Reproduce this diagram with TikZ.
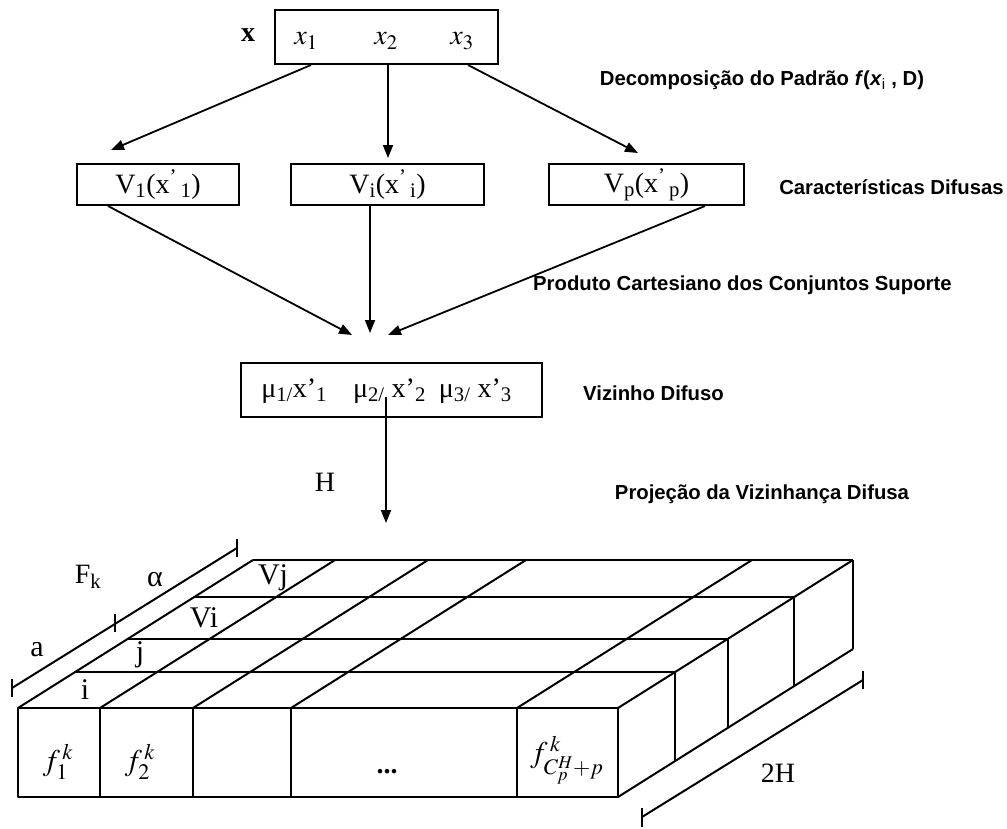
\documentclass[tikz,border=0pt]{standalone}
\usepackage{mathptmx}
\usepackage[no-math]{fontspec}
\setmainfont{Liberation Serif}
\setsansfont{Liberation Sans}
\usetikzlibrary{arrows.meta, positioning, calc}

\newcommand{\serifsize}{\fontsize{28}{32}\selectfont}
\newcommand{\bigsize}{\fontsize{30}{34}\selectfont}
\newcommand{\labelsize}{\fontsize{20.3}{24}\selectfont}

\begin{document}
\begin{tikzpicture}[
			x=1pt, y=-1pt,
			box/.style={draw, line width=2pt, inner sep=0pt, font=\serifsize},
			caption/.style={font=\labelsize\sffamily\bfseries, anchor=west, inner sep=0pt},
			sym/.style={font=\serifsize, inner sep=0pt},
			arrow/.style={-{Triangle[length=13pt,width=10pt]}, line width=1.8pt},
			edge/.style={line width=2pt, line join=round},
			tick/.style={line width=2pt}
			]
			\useasboundingbox (0,0) rectangle (1007,828);
			
			% Pattern x
			\node[box, minimum width=223pt, minimum height=54pt] (pattern) at (386.5,37) {};
			\node[sym, font=\serifsize\bfseries] (xvec) at (248,35) {x};
			\node[sym] (xone) at (306,41) {$x_1$};
			\node[sym] (xtwo) at (386,41) {$x_2$};
			\node[sym] (xthree) at (462,41) {$x_3$};
			\node[caption, anchor=center] (decomp) at (762,80) {Decomposição do Padrão \textit{f}(\textit{x}\textsubscript{\mdseries i} , D)};
			
			% Fuzzy features
			\node[box, minimum width=162pt, minimum height=41pt] (vone) at (158,184.5) {V\textsubscript{1}(x\textsuperscript{’}\textsubscript{\,1})};
			\node[box, minimum width=193pt, minimum height=41pt] (vi) at (387.5,184.5) {V\textsubscript{i}(x\textsuperscript{’}\textsubscript{\,i})};
			\node[box, minimum width=195pt, minimum height=41pt] (vp) at (646.5,184.5) {V\textsubscript{p}(x\textsuperscript{’}\textsubscript{\,p})};
			\node[caption, anchor=east] (feat) at (1004,187) {Características Difusas};
			
			% Arrow tips
			\coordinate (tipone) at (111,150);
			\coordinate (tiptwo) at (388,158);
			\coordinate (tipthree) at (638,153);
			\coordinate (meetone) at (352,335);
			\coordinate (meettwo) at (370,333);
			\coordinate (meetthree) at (388,335);
			
			\draw[arrow] ([xshift=-75.5pt]pattern.south) -- (tipone);
			\draw[arrow] ([xshift=1.5pt]pattern.south) -- (tiptwo);
			\draw[arrow] ([xshift=81.5pt]pattern.south) -- (tipthree);
			
			\draw[arrow] ([xshift=-50pt]vone.south) -- (meetone);
			\draw[arrow] ([xshift=-17.5pt]vi.south) -- (meettwo);
			\draw[arrow] ([xshift=58.5pt]vp.south) -- (meetthree);
			\node[caption] (cart) at (533,285) {Produto Cartesiano dos Conjuntos Suporte};
			
			% Fuzzy neighbour
			\node[box, minimum width=301pt, minimum height=54pt] (fuzzy) at (391.5,390) {};
			\node[sym] (fuzzytext) at (386.5,391) {μ\textsubscript{1/}x'\textsubscript{1}\hspace{26pt}μ\textsubscript{2/} x’\textsubscript{2}\hspace{13pt}μ\textsubscript{3/} x’\textsubscript{3}};
			\node[caption] (neigh) at (583,393) {Vizinho Difuso};
			
			\coordinate (gridtop) at (386,523);
			\draw[arrow] ([xshift=-5.5pt,yshift=-7pt]fuzzy.center) -- (gridtop);
			\node[sym] (hlabel) at (325,482) {H};
			\node[caption, anchor=center] (proj) at (762,494) {Projeção da Vizinhança Difusa};
			
			% Projection grid - front face
			\draw[edge] (18,708) rectangle (618,797);
			\foreach \x in {100,193,291,517}
				\draw[edge] (\x,708) -- (\x,797);
			% top face
			\foreach \x in {18,100,193,291,517,618}
				\draw[edge] (\x,708) -- ++(235,-148);
			\foreach \t in {0.243,0.466,0.75,1}
				\draw[edge] ($(18,708)+\t*(235,-148)$) -- ++(600,0);
			% right face
			\foreach \t in {0.243,0.466,0.75,1}
				\draw[edge] ($(618,708)+\t*(235,-148)$) -- ++(0,89);
			\draw[edge] (618,797) -- ++(235,-148);
			
			% Dimension lines
			\draw[tick] (12,688) -- (237,548);
			\draw[tick] (12,679) -- (12,697);
			\draw[tick] (115,614) -- (115,632);
			\draw[tick] (237,539) -- (237,557);
			\draw[tick] (642,817) -- (863,680);
			\draw[tick] (642,808) -- (642,827);
			\draw[tick] (863,671) -- (863,689);
			
			% Grid labels
			\node[sym, font=\bigsize] (alab) at (37,650) {a};
			\node[sym] (fk) at (88,577) {F\textsubscript{k}};
			\node[sym, font=\bigsize] (alpha) at (155,580) {α};
			\node[sym, font=\bigsize] (vj) at (273,578) {Vj};
			\node[sym, font=\bigsize] (vilab) at (204,618) {Vi};
			\node[sym, font=\bigsize] (jlab) at (140,655) {j};
			\node[sym, font=\bigsize] (ilab) at (85,690) {i};
			\node[sym, font=\bigsize] (fone) at (58,762) {$f^{\,k}_{1}$};
			\node[sym, font=\bigsize] (ftwo) at (140,762) {$f^{\,k}_{2}$};
			\node[sym] (dots) at (387,772) {\textbf{...}};
			\node[sym, font=\bigsize] (flast) at (567,760) {$f^{\,k}_{C^H_p+p}$};
			\node[sym] (twoh) at (778,773) {2H};
			
		\end{tikzpicture}
\end{document}
